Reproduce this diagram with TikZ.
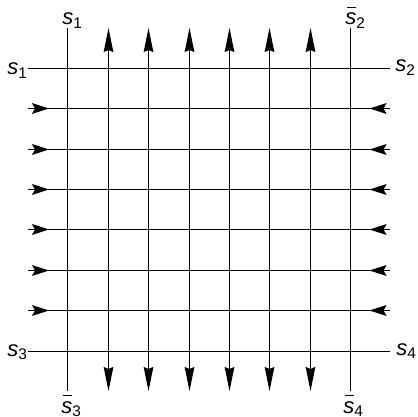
\documentclass[tikz,border=0pt]{standalone}
\usepackage{fontspec}
\setmainfont{Liberation Sans}
\usetikzlibrary{arrows.meta}
\newcommand{\lbl}[1]{\textit{s}\textsubscript{#1}}
\newcommand{\lblbar}[1]{\rlap{\hspace{0.7pt}\rule[8.6pt]{4.8pt}{0.5pt}}\textit{s}\textsubscript{#1}}
\begin{document}
\begin{tikzpicture}[x=0.5pt,y=-0.5pt,
  gridline/.style={line width=0.5pt, black},
  uparrow/.style={gridline, -{Stealth[length=12pt,width=4.8pt,inset=1pt]}},
  sidearrow/.style={gridline, -{Stealth[length=8.5pt,width=5.4pt,inset=1.5pt]}},
  lab/.style={inner sep=0pt, anchor=base west, font=\fontsize{11}{13}\selectfont}]
\useasboundingbox (0,0) rectangle (417,417);
% vertical plain lines
\coordinate (v1t) at (67.5,28);  \coordinate (v1b) at (67.5,391);
\coordinate (v8t) at (350.5,28); \coordinate (v8b) at (350.5,391);
\draw[gridline] (v1t) -- (v1b);
\draw[gridline] (v8t) -- (v8b);
% horizontal plain lines
\coordinate (h1l) at (28,68.5);  \coordinate (h1r) at (390,68.5);
\coordinate (h8l) at (28,351.5); \coordinate (h8r) at (390,351.5);
\draw[gridline] (h1l) -- (h1r);
\draw[gridline] (h8l) -- (h8r);
% vertical arrow lines
\foreach \i/\x in {1/108.5,2/148.5,3/189.5,4/229.5,5/269.5,6/310.5} {
  \coordinate (ut\i) at (\x,28);
  \coordinate (um\i) at (\x,209.5);
  \coordinate (ub\i) at (\x,391);
  \draw[uparrow] (um\i) -- (ut\i);
  \draw[uparrow] (um\i) -- (ub\i);
}
% horizontal arrow lines
\foreach \i/\y in {1/108.5,2/149.5,3/189.5,4/229.5,5/270.5,6/310.5} {
  \coordinate (hl\i) at (28,\y);
  \coordinate (hr\i) at (390,\y);
  \coordinate (hla\i) at (32,\y);
  \coordinate (hlt\i) at (49,\y);
  \coordinate (hra\i) at (387,\y);
  \coordinate (hrt\i) at (369.5,\y);
  \draw[gridline] (hl\i) -- (hr\i);
  \draw[sidearrow] (hla\i) -- (hlt\i);
  \draw[sidearrow] (hra\i) -- (hrt\i);
}
% labels
\node[lab] (ltop1) at (62,25) {\lbl{1}};
\node[lab] (lleft1) at (7,75) {\lbl{1}};
\node[lab] (lright2) at (395,72) {\lbl{2}};
\node[lab] (ltop2) at (345,25) {\lblbar{2}};
\node[lab] (lleft3) at (7,356) {\lbl{3}};
\node[lab] (lbot3) at (61,413) {\lblbar{3}};
\node[lab] (lright4) at (396,355) {\lbl{4}};
\node[lab] (lbot4) at (343,413) {\lblbar{4}};
\end{tikzpicture}
\end{document}
